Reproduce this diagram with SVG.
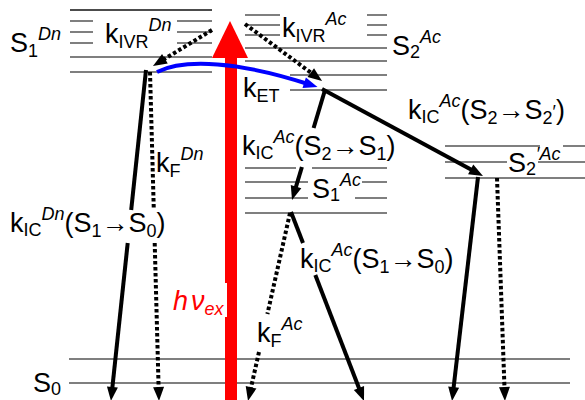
<svg xmlns="http://www.w3.org/2000/svg" width="585" height="400" viewBox="0 0 585 400">
<style>
.t{font-family:"Liberation Sans",Arial,sans-serif;font-size:27px;fill:#000}
.sub{font-size:18px;font-style:normal}
.sup{font-size:18px;font-style:italic}
.lv{stroke:#555;stroke-width:1.5;fill:none}
.sol{stroke:#000;stroke-width:4;fill:none}
.dot{stroke:#000;stroke-width:4;fill:none;stroke-dasharray:3.5 2.5}
.ah{marker-end:url(#ah)}
</style>
<defs>
<marker id="ah" markerUnits="userSpaceOnUse" markerWidth="14" markerHeight="11" refX="4" refY="5.5" orient="auto" overflow="visible">
<path d="M0,0 L14,5.5 L0,11 z" fill="#000"/>
</marker>
<marker id="ahb" markerUnits="userSpaceOnUse" markerWidth="14" markerHeight="11" refX="4" refY="5.5" orient="auto" overflow="visible">
<path d="M0,0 L14,5.5 L0,11 z" fill="#0000ff"/>
</marker>
</defs>
<rect width="585" height="400" fill="#fff"/>

<g id="donor-S1">
<path d="M70,10 H212" stroke="#111" stroke-width="1.5"/>
<path class="lv" d="M70,21 H93 M177,21 H212 M70,32 H93 M177,32 H212 M70,43 H93 M177,43 H212 M70,57 H212 M70,72 H212"/>
<text class="t" x="10" y="52">S<tspan class="sub" dy="5">1</tspan><tspan class="sup" dy="-17">Dn</tspan></text>
</g>

<g id="acceptor-S2">
<path class="lv" d="M245,15 H280 M367,15 H387 M245,25 H280 M367,25 H387 M245,35 H280 M367,35 H387 M245,48 H387 M245,61 H387 M290,75 H387 M290,90 H387"/>
<text class="t" x="392" y="55">S<tspan class="sub" dy="3">2</tspan><tspan class="sup" dy="-15">Ac</tspan></text>
</g>

<g id="acceptor-S1">
<path class="lv" d="M245,168 H296 M312,168 H387 M245,182 H308 M362,182 H387 M245,198 H308 M355,198 H387 M245,213 H387"/>
<text class="t" x="312" y="198">S<tspan class="sub" dy="3">1</tspan><tspan class="sup" dy="-15">Ac</tspan></text>
</g>

<g id="acceptor-S2p">
<path class="lv" d="M445,146 H540 M563,146 H585 M445,162 H507 M538,162 H585 M445,178 H585"/>
<text class="t" x="508" y="172">S<tspan class="sub" dy="3">2</tspan><tspan class="sup" dy="-15" font-size="12">′</tspan><tspan class="sup" dy="0">Ac</tspan></text>
</g>

<g id="ground-S0">
<path class="lv" d="M69,359 H570 M69,383 H570"/>
<text class="t" x="33" y="392">S<tspan class="sub" dy="3">0</tspan></text>
</g>

<g id="excitation">
<rect x="225" y="56" width="12" height="346" fill="#ff0000"/>
<polygon points="230,21 212,58 248,58" fill="#ff0000"/>
<rect x="171" y="283" width="56" height="34" fill="#fff"/>
<text class="t" x="173" y="310" fill="#ff0000" style="fill:#ff0000;font-style:italic">h<tspan dx="3">ν</tspan><tspan class="sub" dy="5" style="font-style:italic">ex</tspan></text>
</g>

<g id="connectors">
<path class="sol" d="M146,70 L131.2,210"/>
<path class="sol ah" d="M127.7,243 L112,391"/>
<path class="dot" d="M150,72 L153.8,210"/>
<path class="dot ah" d="M154.7,243 L158.7,391"/>
<path class="dot ah" d="M212,30 L161.5,60.8"/>
<path class="dot ah" d="M245,24 L314,75"/>
<path d="M157,72 C185,58 240,62 308,84" stroke="#0000ff" stroke-width="4" fill="none" marker-end="url(#ahb)"/>
<path class="sol ah" d="M322,89 L474.2,171.2"/>
<path class="sol" d="M325,90 L313.6,128"/>
<path class="sol ah" d="M301.9,167 L294.9,190.4"/>
<path class="sol" d="M291,212 L303,243"/>
<path class="sol ah" d="M315.3,275 L360.4,391.7"/>
<path class="dot" d="M290,213 L267.4,314"/>
<path class="dot ah" d="M259,352 L250.2,391.2"/>
<path class="sol ah" d="M478,177 L453.2,391.1"/>
<path class="dot ah" d="M497,178 L504.6,391"/>
</g>

<g id="labels">
<text class="t" x="105" y="43">k<tspan class="sub" dy="5">IVR</tspan><tspan class="sup" dy="-17">Dn</tspan></text>
<text class="t" x="282" y="37">k<tspan class="sub" dy="5">IVR</tspan><tspan class="sup" dy="-17">Ac</tspan></text>
<text class="t" x="243" y="97">k<tspan class="sub" dy="5">ET</tspan></text>
<text class="t" x="408" y="119">k<tspan class="sub" dy="4">IC</tspan><tspan class="sup" dy="-16">Ac</tspan><tspan dy="12">(S</tspan><tspan class="sub" dy="5">2</tspan><tspan dy="-5">→S</tspan><tspan class="sub" dy="5">2</tspan><tspan class="sub" font-size="10" dy="-6">′</tspan><tspan dy="1">)</tspan></text>
<text class="t" x="242" y="155">k<tspan class="sub" dy="4">IC</tspan><tspan class="sup" dy="-16">Ac</tspan><tspan dy="12">(S</tspan><tspan class="sub" dy="5">2</tspan><tspan dy="-5">→S</tspan><tspan class="sub" dy="5">1</tspan><tspan dy="-5">)</tspan></text>
<text class="t" x="156" y="172">k<tspan class="sub" dy="5">F</tspan><tspan class="sup" dy="-17">Dn</tspan></text>
<text class="t" x="10" y="232">k<tspan class="sub" dy="4">IC</tspan><tspan class="sup" dy="-16">Dn</tspan><tspan dy="12">(S</tspan><tspan class="sub" dy="5">1</tspan><tspan dy="-5">→S</tspan><tspan class="sub" dy="5">0</tspan><tspan dy="-5">)</tspan></text>
<text class="t" x="300" y="268">k<tspan class="sub" dy="4">IC</tspan><tspan class="sup" dy="-16">Ac</tspan><tspan dy="12">(S</tspan><tspan class="sub" dy="5">1</tspan><tspan dy="-5">→S</tspan><tspan class="sub" dy="5">0</tspan><tspan dy="-5">)</tspan></text>
<text class="t" x="257" y="342">k<tspan class="sub" dy="5">F</tspan><tspan class="sup" dy="-17">Ac</tspan></text>
</g>
</svg>
